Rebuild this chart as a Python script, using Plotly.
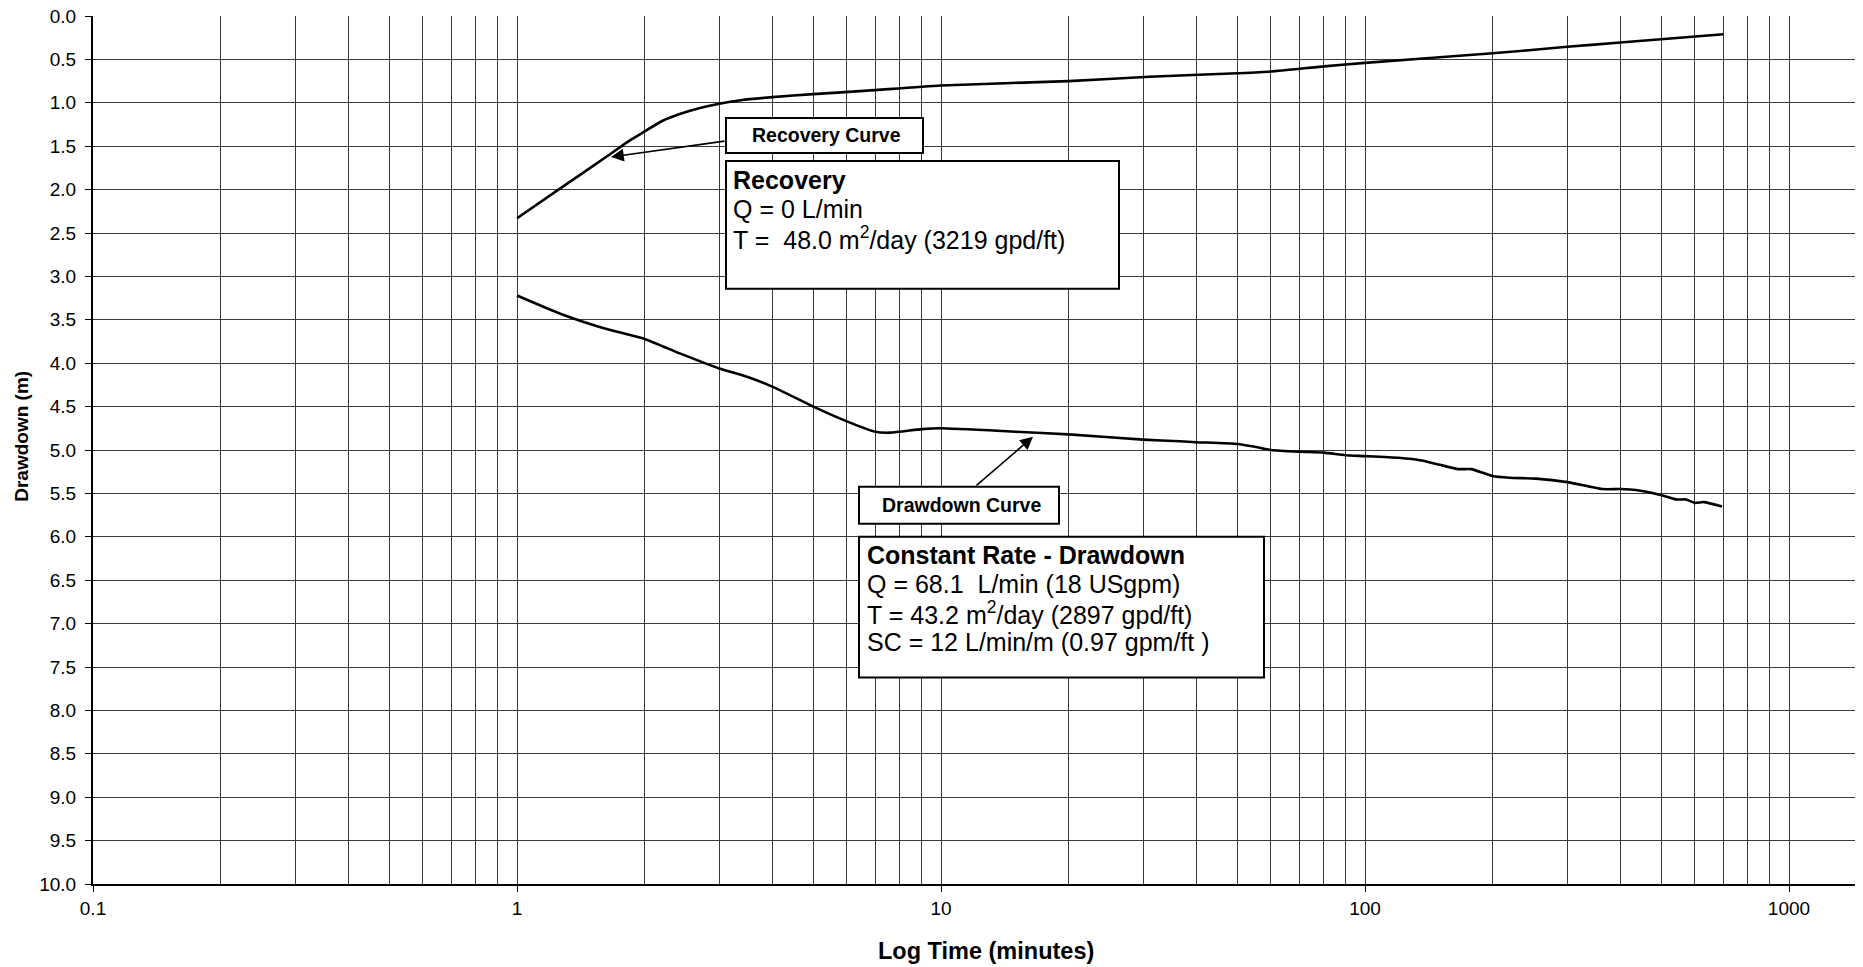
import plotly.graph_objects as go

# ---------------- data ----------------
recovery_time = [1, 1.27, 1.66, 1.85, 2, 2.2, 2.42, 2.7, 3, 3.37, 4, 5, 6.7, 10, 20, 31, 50, 60, 80,
                 100, 200, 300, 400, 700]
recovery_dd = [2.33, 1.98, 1.59, 1.43, 1.33, 1.21, 1.13, 1.06, 1.01, 0.97, 0.935, 0.90, 0.86, 0.80,
               0.75, 0.70, 0.66, 0.64, 0.58, 0.54, 0.43, 0.355, 0.305, 0.21]

drawdown_time = [1, 1.265, 1.61, 2, 2.43, 3, 3.5, 4, 5, 6, 7, 7.6, 9, 10, 15, 20, 30, 36.6, 40, 50, 54.7,
                 60, 70, 80, 90, 100, 120, 136, 150, 166, 178, 200, 219, 253, 300, 362, 400, 435, 500,
                 544, 572, 600, 630, 695]
drawdown_dd = [3.22, 3.43, 3.60, 3.72, 3.89, 4.06, 4.16, 4.27, 4.50, 4.67, 4.79, 4.80, 4.76, 4.75, 4.79,
               4.82, 4.88, 4.90, 4.91, 4.93, 4.96, 5.00, 5.02, 5.03, 5.06, 5.07, 5.09, 5.12, 5.17, 5.22,
               5.22, 5.30, 5.32, 5.33, 5.37, 5.45, 5.45, 5.46, 5.52, 5.57, 5.57, 5.61, 5.60, 5.65]

x_tick_vals = [0.1, 1, 10, 100, 1000]
x_tick_text = ["0.1", "1", "10", "100", "1000"]
y_tick_vals = [i * 0.5 for i in range(21)]

x_title = "Log Time (minutes)"
y_title = "Drawdown (m)"
recovery_label = "Recovery Curve"
drawdown_label = "Drawdown Curve"
recovery_box = ["<b>Recovery</b>", "Q = 0 L/min", "T =  48.0 m<sup>2</sup>/day (3219 gpd/ft)"]
drawdown_box = ["<b>Constant Rate - Drawdown</b>", "Q = 68.1  L/min (18 USgpm)",
                "T = 43.2 m<sup>2</sup>/day (2897 gpd/ft)", "SC = 12 L/min/m (0.97 gpm/ft )"]

# ---------------- layout geometry (page pixels; page body has an 8px margin) ----------------
OFF = 8
W, H = 1863 - OFF, 967 - OFF
PLOT_L, PLOT_T, PLOT_B = 93, 16, 884.5          # page pixel positions of plot edges
ML = PLOT_L - OFF
MT = PLOT_T - OFF
MB = 967 - PLOT_B
MR = 0
PW, PH = W - ML - MR, H - MT - MB
FONT = "Liberation Sans, Arial, sans-serif"


def px(xp):
    return (xp - PLOT_L) / PW


def py(yp):
    return (PLOT_B - yp) / PH


fig = go.Figure()
fig.add_trace(go.Scatter(x=recovery_time, y=recovery_dd, mode="lines",
                         line=dict(color="black", width=2.6, shape="spline", smoothing=0.6),
                         hoverinfo="skip"))
fig.add_trace(go.Scatter(x=drawdown_time, y=drawdown_dd, mode="lines",
                         line=dict(color="black", width=2.6, shape="spline", smoothing=0.5),
                         hoverinfo="skip"))

shapes = []
annotations = []


def box(x0, y0, x1, y1):
    shapes.append(dict(type="rect", xref="paper", yref="paper",
                       x0=px(x0), x1=px(x1), y0=py(y0), y1=py(y1),
                       line=dict(color="black", width=2), fillcolor="white", layer="above"))


def text(t, x, y, size, anchor="left", angle=0):
    annotations.append(dict(text=t, xref="paper", yref="paper", x=px(x), y=py(y),
                            xanchor=anchor, yanchor="middle", showarrow=False, textangle=angle,
                            font=dict(family=FONT, size=size, color="black")))


def arrow(tail, tip):
    annotations.append(dict(text="", xref="paper", yref="paper", x=px(tip[0]), y=py(tip[1]),
                            ax=tail[0] - tip[0], ay=tail[1] - tip[1], axref="pixel", ayref="pixel",
                            showarrow=True, arrowhead=2, arrowsize=1.6, arrowwidth=1.6,
                            arrowcolor="black", standoff=0, startstandoff=0))


# arrows
arrow((726, 141), (611, 157))
arrow((975, 487), (1033, 437))

# label boxes
box(726, 118, 923, 153)
text("<b>%s</b>" % recovery_label, 826, 135.5, 19.5, "center")
box(859, 487, 1059, 524)
text("<b>%s</b>" % drawdown_label, 961, 505.5, 19.5, "center")

# info boxes
box(726, 161, 1119, 289)
for i, line in enumerate(recovery_box):
    text(line, 731, 189 - 8.5 + i * 29, 25)
box(859, 537, 1264, 678)
for i, line in enumerate(drawdown_box):
    text(line, 865, 564 - 8.5 + i * 29.1, 25)

# axis titles as annotations
text("<b>%s</b>" % y_title, 22, 437, 19, "center", -90)
text("<b>%s</b>" % x_title, 986, 952, 23.5, "center")

fig.update_layout(
    width=W, height=H,
    margin=dict(l=ML, r=MR, t=MT, b=MB, pad=0, autoexpand=False),
    paper_bgcolor="white", plot_bgcolor="white",
    showlegend=False,
    font=dict(family=FONT, size=19, color="black"),
    shapes=shapes, annotations=annotations,
    xaxis=dict(type="log", range=[-1, -1 + PW / 424.0], automargin=False,
               tickvals=x_tick_vals, ticktext=x_tick_text,
               ticks="outside", ticklen=6, tickwidth=1, tickcolor="black",
               ticklabelstandoff=0, ticklabeloverflow="allow",
               showgrid=True, gridcolor="#3a3a3a", gridwidth=1,
               minor=dict(showgrid=True, dtick="D1", gridcolor="#3a3a3a", gridwidth=1, ticks=""),
               showline=True, linecolor="black", linewidth=2, mirror=False,
               zeroline=False,
               tickfont=dict(family=FONT, size=19)),
    yaxis=dict(range=[10, 0], tickvals=y_tick_vals, tickformat=".1f", automargin=False,
               ticks="outside", ticklen=6, tickwidth=1, tickcolor="black",
               ticklabelstandoff=5, ticklabeloverflow="allow",
               showgrid=True, gridcolor="#3a3a3a", gridwidth=1,
               showline=True, linecolor="black", linewidth=2,
               zeroline=False,
               tickfont=dict(family=FONT, size=19)),
)

fig.write_html("out.html")
